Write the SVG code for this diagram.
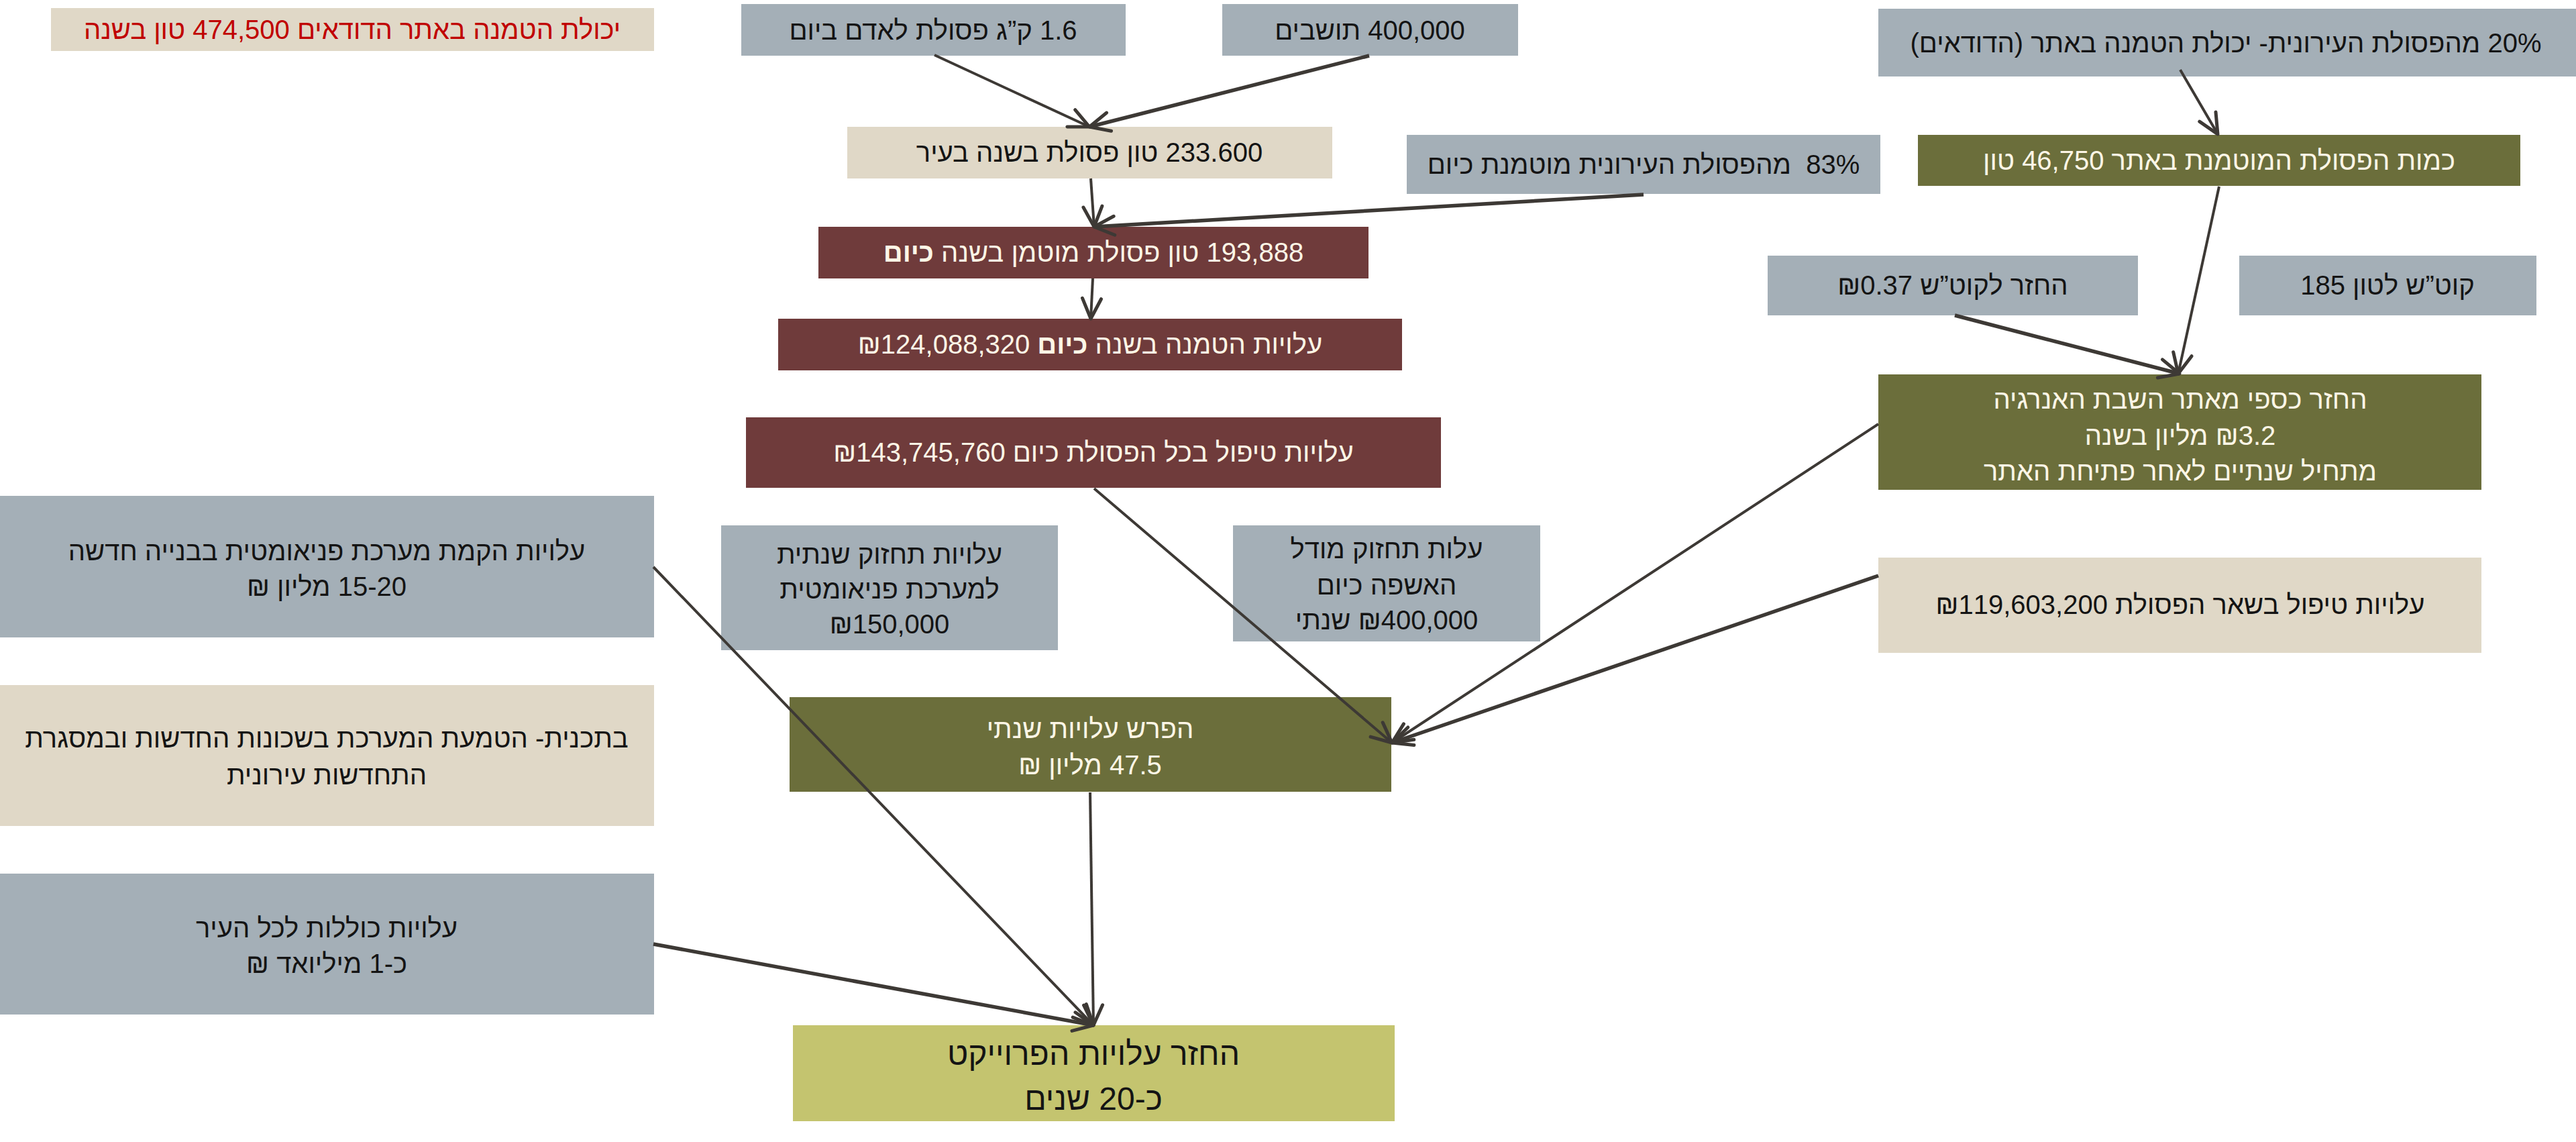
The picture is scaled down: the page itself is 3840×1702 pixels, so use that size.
<svg xmlns="http://www.w3.org/2000/svg" width="3840" height="1702" viewBox="0 0 3840 1702">
<defs>
<style>
.t{font-family:"Liberation Sans","DejaVu Sans",sans-serif;font-size:40px;direction:rtl;text-anchor:middle;white-space:pre}
.big{font-size:48px}
.dk{fill:#141414}.lt{fill:#fdf6e6}.rd{fill:#c00000}
.gray{fill:#a4afb7}.beige{fill:#e0d8c7}.red{fill:#6f3b3b}.olive{fill:#6b6e3b}.lol{fill:#c4c46f}
.c{stroke:#3d3935;stroke-width:4;fill:none;marker-end:url(#ah)}
.k{stroke-width:5.5}
</style>
<marker id="ah" markerUnits="userSpaceOnUse" markerWidth="60" markerHeight="60" refX="0" refY="0" orient="auto" overflow="visible">
<path d="M-30,-14 L0,0 L-30,14" fill="none" stroke="#3d3935" stroke-width="5" stroke-linecap="round" stroke-linejoin="round"/>
</marker>
</defs>
<rect width="3840" height="1702" fill="#ffffff"/>

<g id="n_capacity"><rect class="beige" x="76" y="12" width="899" height="64"/>
<text class="t rd" x="525" y="58">יכולת הטמנה באתר הדודאים 474,500 טון בשנה</text></g>

<g id="n_kg"><rect class="gray" x="1105" y="6" width="573" height="77"/>
<text class="t dk" x="1391" y="59">1.6 ק”ג פסולת לאדם ביום</text></g>

<g id="n_residents"><rect class="gray" x="1822" y="6" width="441" height="77"/>
<text class="t dk" x="2042" y="59">400,000 תושבים</text></g>

<g id="n_20pct"><rect class="gray" x="2800" y="13" width="1040" height="101"/>
<text class="t dk" x="3318" y="78">20% מהפסולת העירונית- יכולת הטמנה באתר (הדודאים)</text></g>

<g id="n_city"><rect class="beige" x="1263" y="189" width="723" height="77"/>
<text class="t dk" x="1624" y="241">233.600 טון פסולת בשנה בעיר</text></g>

<g id="n_83pct"><rect class="gray" x="2097" y="201" width="706" height="88"/>
<text class="t dk" x="2450" y="259">83%  מהפסולת העירונית מוטמנת כיום</text></g>

<g id="n_site"><rect class="olive" x="2859" y="201" width="898" height="76"/>
<text class="t lt" x="3308" y="253">כמות הפסולת המוטמנת באתר 46,750 טון</text></g>

<g id="n_landfilled"><rect class="red" x="1220" y="338" width="820" height="77"/>
<text class="t lt" x="1630" y="390">193,888 טון פסולת מוטמן בשנה <tspan font-weight="bold">כיום</tspan></text></g>

<g id="n_kwh_return"><rect class="gray" x="2635" y="381" width="552" height="89"/>
<text class="t dk" x="2911" y="439">החזר לקוט”ש ₪0.37</text></g>

<g id="n_kwh_ton"><rect class="gray" x="3338" y="381" width="443" height="89"/>
<text class="t dk" x="3559" y="439">קוט”ש לטון 185</text></g>

<g id="n_landfill_cost"><rect class="red" x="1160" y="475" width="930" height="77"/>
<text class="t lt" x="1625" y="527">עלויות הטמנה בשנה <tspan font-weight="bold">כיום</tspan> ₪124,088,320</text></g>

<g id="n_energy"><rect class="olive" x="2800" y="558" width="899" height="172"/>
<text class="t lt" x="3250" y="609">החזר כספי מאתר השבת האנרגיה</text>
<text class="t lt" x="3250" y="663">₪3.2 מליון בשנה</text>
<text class="t lt" x="3250" y="716">מתחיל שנתיים לאחר פתיחת האתר</text></g>

<g id="n_total_treat"><rect class="red" x="1112" y="622" width="1036" height="105"/>
<text class="t lt" x="1630" y="688">עלויות טיפול בכל הפסולת כיום ₪143,745,760</text></g>

<g id="n_setup"><rect class="gray" x="0" y="739" width="975" height="211"/>
<text class="t dk" x="487" y="835">עלויות הקמת מערכת פניאומטית בבנייה חדשה</text>
<text class="t dk" x="487" y="888">15-20 מליון ₪</text></g>

<g id="n_maint_pn"><rect class="gray" x="1075" y="783" width="502" height="186"/>
<text class="t dk" x="1326" y="840">עלויות תחזוק שנתית</text>
<text class="t dk" x="1326" y="892">למערכת פניאומטית</text>
<text class="t dk" x="1326" y="944">₪150,000</text></g>

<g id="n_maint_model"><rect class="gray" x="1838" y="783" width="458" height="173"/>
<text class="t dk" x="2067" y="832">עלות תחזוק מודל</text>
<text class="t dk" x="2067" y="886">האשפה כיום</text>
<text class="t dk" x="2067" y="938">₪400,000 שנתי</text></g>

<g id="n_rest"><rect class="beige" x="2800" y="831" width="899" height="142"/>
<text class="t dk" x="3250" y="915">עלויות טיפול בשאר הפסולת ₪119,603,200</text></g>

<g id="n_plan"><rect class="beige" x="0" y="1021" width="975" height="210"/>
<text class="t dk" x="487" y="1114">בתכנית- הטמעת המערכת בשכונות החדשות ובמסגרת</text>
<text class="t dk" x="487" y="1169">התחדשות עירונית</text></g>

<g id="n_diff"><rect class="olive" x="1177" y="1039" width="897" height="141"/>
<text class="t lt" x="1625" y="1100">הפרש עלויות שנתי</text>
<text class="t lt" x="1625" y="1154">47.5 מליון ₪</text></g>

<g id="n_total"><rect class="gray" x="0" y="1302" width="975" height="210"/>
<text class="t dk" x="487" y="1397">עלויות כוללות לכל העיר</text>
<text class="t dk" x="487" y="1450">כ-1 מיליואד ₪</text></g>

<g id="n_payback"><rect class="lol" x="1182" y="1528" width="897" height="143"/>
<text class="t big dk" x="1630" y="1587">החזר עלויות הפרוייקט</text>
<text class="t big dk" x="1630" y="1654">כ-20 שנים</text></g>

<g id="connectors">
<line class="c" x1="1393" y1="82" x2="1624" y2="189"/>
<line class="c k" x1="2041" y1="83" x2="1624" y2="189"/>
<line class="c" x1="1626" y1="266" x2="1631" y2="338"/>
<line class="c k" x1="2450" y1="290" x2="1631" y2="338"/>
<line class="c" x1="1629" y1="415" x2="1626" y2="475"/>
<line class="c" x1="3250" y1="104" x2="3306" y2="200"/>
<line class="c" x1="3308" y1="278" x2="3247" y2="557"/>
<line class="c k" x1="2914" y1="470" x2="3249" y2="557"/>
<line class="c" x1="1631" y1="728" x2="2075" y2="1107"/>
<line class="c" x1="2800" y1="632" x2="2075" y2="1107"/>
<line class="c k" x1="2800" y1="858" x2="2075" y2="1107"/>
<line class="c" x1="974" y1="845" x2="1630" y2="1528"/>
<line class="c k" x1="974" y1="1407" x2="1630" y2="1528"/>
<line class="c" x1="1625" y1="1181" x2="1630" y2="1528"/>
</g>
</svg>
